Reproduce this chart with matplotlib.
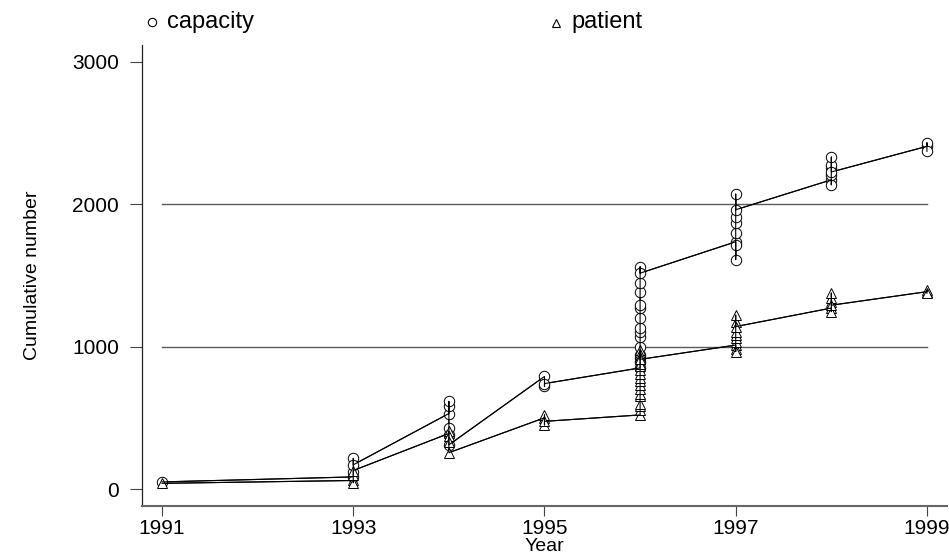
import matplotlib
matplotlib.use('Agg')
from matplotlib import pyplot as plt

plt.rcParams['font.family'] = ['Liberation Sans', 'DejaVu Sans']

# cumulative counts per year, listed in the order the connecting line visits them
years = [1991, 1993, 1994, 1995, 1996, 1997, 1998, 1999]
capacity = [
    [50],
    [85, 120, 215, 170],
    [530, 580, 615, 430, 380, 310],
    [790, 720, 740],
    [850, 890, 920, 940, 1000, 1065, 1105, 1130, 1200, 1270, 1290,
     1385, 1445, 1560, 1515],
    [1735, 1710, 1610, 1795, 1865, 1910, 2070, 1960],
    [2170, 2135, 2205, 2250, 2275, 2330, 2225],
    [2405, 2430, 2370],
]
patient = [
    [40],
    [60, 45, 95, 130],
    [390, 405, 370, 330, 255],
    [500, 520, 450, 475],
    [520, 555, 580, 600, 650, 670, 705, 730, 755, 780, 810, 835, 860,
     880, 975, 950, 930, 910],
    [1010, 985, 965, 1035, 1060, 1080, 1105, 1175, 1220, 1140],
    [1270, 1245, 1315, 1340, 1375, 1290],
    [1385, 1395, 1375],
]
xticks = [1991, 1993, 1995, 1997, 1999]
yticks = [0, 1000, 2000, 3000]


def flatten(groups):
    xs, ys = [], []
    for yr, vals in zip(years, groups):
        xs += [yr] * len(vals)
        ys += vals
    return xs, ys


fig = plt.figure(figsize=(9.49, 5.55), dpi=100)
ax = fig.add_axes([0.1496, 0.0883, 0.8483, 0.8306])

for yv in (1000, 2000):
    ax.plot([years[0], years[-1]], [yv, yv], color='#5a5a5a', lw=1.0, zorder=1)

cx, cy = flatten(capacity)
px, py = flatten(patient)
ax.plot(cx, cy, color='black', lw=0.8, marker='o', ms=7.5, mfc='white',
        mec='black', mew=0.7, zorder=3)
ax.plot(px, py, color='black', lw=0.8, marker='^', ms=7.5, mfc='white',
        mec='black', mew=0.7, zorder=3)
# redraw the lines on top so they show through the hollow markers
ax.plot(cx, cy, color='black', lw=0.8, zorder=4)
ax.plot(px, py, color='black', lw=0.8, zorder=4)

ax.set_xlim(1990.79, 1999.21)
ax.set_ylim(-119, 3116)
ax.set_xticks(xticks)
ax.set_yticks(yticks)
ax.tick_params(axis='x', length=7.5, width=0.8, color='#444444', pad=2,
               labelsize=15)
ax.tick_params(axis='y', length=8.6, width=0.8, color='#444444', pad=8,
               labelsize=15)
for side in ('top', 'right'):
    ax.spines[side].set_visible(False)
ax.spines['left'].set_color('#222222')
ax.spines['left'].set_linewidth(0.9)
ax.spines['bottom'].set_color('#666666')
ax.spines['bottom'].set_linewidth(1.5)

ax.set_ylabel('Cumulative number', fontsize=14, labelpad=22)
ax.set_xlabel('Year', fontsize=14, labelpad=0)

# legend strip above the plot
fig.lines.append(plt.Line2D([152 / 949], [1 - 22 / 555], marker='o', ms=6,
                            mfc='white', mec='black', mew=0.8,
                            transform=fig.transFigure))
fig.lines.append(plt.Line2D([556 / 949], [1 - 23 / 555], marker='^', ms=6,
                            mfc='white', mec='black', mew=0.8,
                            transform=fig.transFigure))
fig.text(167 / 949, 1 - 22 / 555, 'capacity', fontsize=17, va='center')
fig.text(571 / 949, 1 - 22 / 555, 'patient', fontsize=17, va='center')

fig.savefig('out.png', dpi=100)
